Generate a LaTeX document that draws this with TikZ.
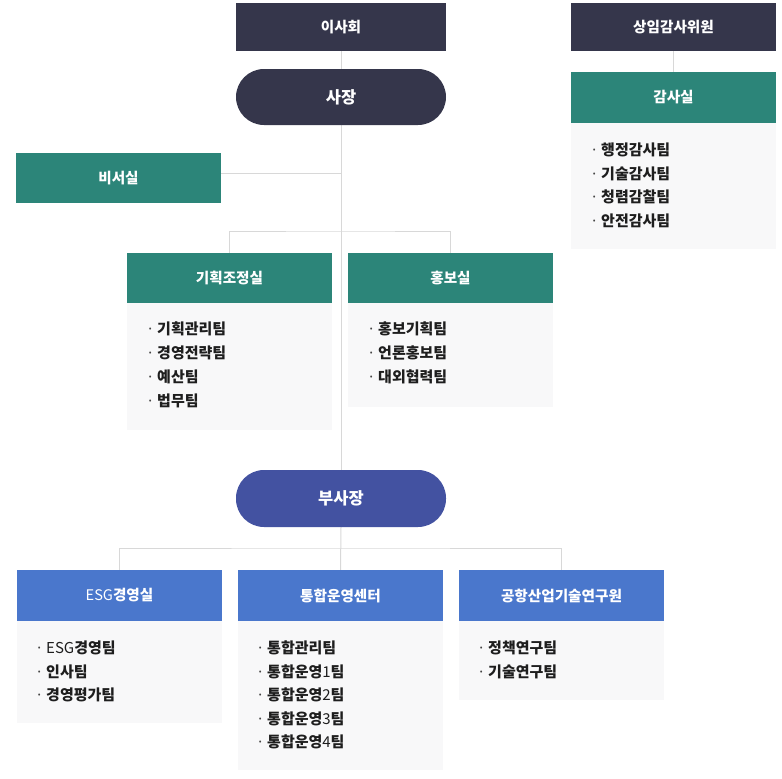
\documentclass[tikz,border=0pt]{standalone}
\usepackage{fontspec}
\setmainfont{Noto Sans CJK KR}
\usetikzlibrary{calc}
\pgfdeclarelayer{bg}
\pgfsetlayers{bg,main}
\definecolor{navy}{HTML}{35364B}
\definecolor{tealh}{HTML}{2C8579}
\definecolor{blueh}{HTML}{4A77CC}
\definecolor{vpc}{HTML}{4352A1}
\definecolor{bodybg}{HTML}{F8F8F9}
\definecolor{itemc}{HTML}{1E1E1E}
\definecolor{bulc}{HTML}{444444}
\definecolor{linec}{HTML}{D8D8D8}
\tikzset{
  box/.style={rectangle, inner sep=0pt, minimum width=205pt, text=white,
    font=\fontsize{14.6}{16}\selectfont\bfseries},
  navybox/.style={box, fill=navy, minimum width=210pt, minimum height=48pt},
  pill/.style={box, rounded corners=28pt, minimum width=210pt, minimum height=56pt,
    font=\fontsize{16.5}{18}\selectfont\bfseries},
  tealhead/.style={box, fill=tealh, minimum height=51pt},
  bluehead/.style={box, fill=blueh, minimum height=51pt},
  bodybox/.style={rectangle, fill=bodybg, inner sep=0pt, minimum width=205pt, anchor=north},
  item/.style={anchor=base west, inner sep=0pt, text=itemc,
    font=\fontsize{15}{16}\selectfont\bfseries},
  link/.style={draw=linec, line width=1pt},
}
\newcommand{\bul}{\makebox[11pt][l]{\textcolor{bulc}{\mdseries ·}}}
\begin{document}
\begin{tikzpicture}[x=1pt,y=-1pt]
\useasboundingbox (0,0) rectangle (782,779);
% top level
\node[navybox] (isa) at (341,27) {이사회};
\node[pill, fill=navy] (ceo) at (341,97) {사장};
\node[tealhead, minimum height=50pt] (biseo) at (118.5,178) {비서실};
\node[navybox, minimum width=205pt] (sangim) at (673.5,27) {상임감사위원};
% audit
\node[tealhead] (gamsa) at (673.5,97.5) {감사실};
\node[bodybox, minimum height=126pt] (gamsab) at (gamsa.south) {};
\foreach \t [count=\i] in {행정감사팀,기술감사팀,청렴감찰팀,안전감사팀}
  \node[item] (gamsa-\i) at (590,{155.5+(\i-1)*23.6}) {\bul\t};
% planning / PR
\node[tealhead, minimum height=50pt] (gihoek) at (229.5,278) {기획조정실};
\node[bodybox, minimum height=127pt] (gihoekb) at (gihoek.south) {};
\foreach \t [count=\i] in {기획관리팀,경영전략팀,예산팀,법무팀}
  \node[item] (gihoek-\i) at (146,{334.5+(\i-1)*24}) {\bul\t};
\node[tealhead, minimum height=50pt] (hongbo) at (450.5,278) {홍보실};
\node[bodybox, minimum height=104pt] (hongbob) at (hongbo.south) {};
\foreach \t [count=\i] in {홍보기획팀,언론홍보팀,대외협력팀}
  \node[item] (hongbo-\i) at (367,{334.5+(\i-1)*24}) {\bul\t};
% vice president
\node[pill, fill=vpc, minimum height=57pt] (vp) at (341,498.5) {부사장};
% bottom row
\node[bluehead] (esg) at (119.5,595.5) {{\mdseries ESG}경영실};
\node[bodybox, minimum height=102pt] (esgb) at (esg.south) {};
\foreach \t [count=\i] in {{{\mdseries ESG}경영팀},인사팀,경영평가팀}
  \node[item] (esg-\i) at (35,{653.5+(\i-1)*23.6}) {\bul\t};
\node[bluehead] (tonghap) at (340.5,595.5) {통합운영센터};
\node[bodybox, minimum height=149pt] (tonghapb) at (tonghap.south) {};
\foreach \t [count=\i] in {통합관리팀,{통합운영{\mdseries 1}팀},{통합운영{\mdseries 2}팀},{통합운영{\mdseries 3}팀},{통합운영{\mdseries 4}팀}}
  \node[item] (tonghap-\i) at (256,{653.5+(\i-1)*23.6}) {\bul\t};
\node[bluehead] (gonghang) at (561.5,595.5) {공항산업기술연구원};
\node[bodybox, minimum height=79pt] (gonghangb) at (gonghang.south) {};
\foreach \t [count=\i] in {정책연구팀,기술연구팀}
  \node[item] (gonghang-\i) at (477,{653.5+(\i-1)*23.6}) {\bul\t};
% connectors
\coordinate (j1) at (341,231);
\coordinate (j2) at (341,548);
\coordinate (bs) at ($(biseo.east)+(0,-5)$);
\begin{pgfonlayer}{bg}
\draw[link] (isa.south) -- (ceo.north);
\draw[link] (ceo.south) -- (vp.north);
\draw[link] (vp.south) -- (tonghap.north);
\draw[link] (bs) -- (bs -| ceo.south);
\draw[link] (gihoek.north) |- (j1) -| (hongbo.north);
\draw[link] (esg.north) |- (j2) -| (gonghang.north);
\draw[link] (sangim.south) -- (gamsa.north);
\end{pgfonlayer}
\end{tikzpicture}
\end{document}
